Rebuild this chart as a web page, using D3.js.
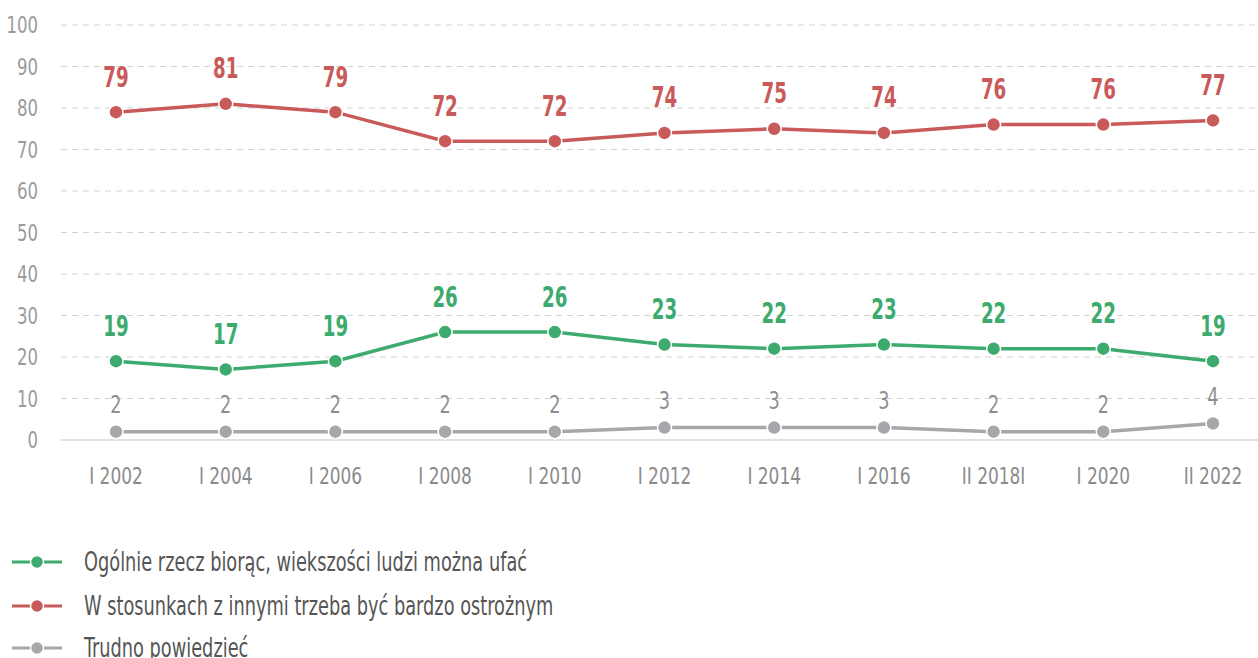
<!DOCTYPE html>
<html><head><meta charset="utf-8">
<script src="https://cdn.jsdelivr.net/npm/d3@7"></script>
<style>
body{margin:0;background:#fff;}
text{font-family:"DejaVu Sans Condensed","DejaVu Sans",sans-serif;}
</style></head>
<body><svg id="c" width="1258" height="658"></svg>
<script>
const categories=["I 2002","I 2004","I 2006","I 2008","I 2010","I 2012","I 2014","I 2016","II 2018I","I 2020","II 2022"];
const trust=[19,17,19,26,26,23,22,23,22,22,19];
const careful=[79,81,79,72,72,74,75,74,76,76,77];
const hard=[2,2,2,2,2,3,3,3,2,2,4];
const yTicks=[0,10,20,30,40,50,60,70,80,90,100];
const seriesNames=["Ogólnie rzecz biorąc, wiekszości ludzi można ufać","W stosunkach z innymi trzeba być bardzo ostrożnym","Trudno powiedzieć"];
const colors=["#3daa6e","#c85a5a","#a7a7ab"];

const svg=d3.select("#c");
const x=d3.scalePoint().domain(categories).range([116,1213]);
const y=d3.scaleLinear().domain([0,100]).range([440,25]);

function narrow(sel,s,fx,fy){
  sel.attr("x",null).attr("y",null)
     .attr("transform",(d,i)=>`translate(${fx(d,i)},${fy(d,i)}) scale(${s},1)`);
}

// grid
svg.append("g").selectAll("line").data(yTicks).join("line")
 .attr("x1",61).attr("x2",1258).attr("y1",d=>y(d)).attr("y2",d=>y(d))
 .attr("stroke",d=>d===0?"#d6d6d6":"#d3d3d3").attr("stroke-width",d=>d===0?1.5:1)
 .attr("stroke-dasharray",d=>d===0?null:"6,5");

// y axis labels
svg.append("g").selectAll("text").data(yTicks).join("text")
 .attr("text-anchor","end").attr("dy","0.36em").attr("font-size",23).attr("fill","#9a9a9e")
 .text(d=>d).call(narrow,0.8,()=>38,d=>y(d));

// x axis labels
svg.append("g").selectAll("text").data(categories).join("text")
 .attr("text-anchor","middle").attr("dy","0.36em").attr("font-size",23).attr("fill","#8a8a8e")
 .text(d=>d).call(narrow,0.82,d=>x(d),()=>476);

const data=[trust,careful,hard];
const line=d3.line().x((d,i)=>x(categories[i])).y(d=>y(d));
data.forEach((vals,k)=>{
  const g=svg.append("g");
  g.append("path").datum(vals).attr("d",line).attr("fill","none").attr("stroke",colors[k]).attr("stroke-width",3.5);
  g.selectAll("circle").data(vals).join("circle")
   .attr("cx",(d,i)=>x(categories[i])).attr("cy",d=>y(d)).attr("r",7)
   .attr("fill",colors[k]).attr("stroke","#fff").attr("stroke-width",1.5);
  const off=k===2?27:36;
  g.selectAll("text").data(vals).join("text")
   .attr("dy","0.36em")
   .attr("text-anchor","middle").attr("font-size",k===2?24:29)
   .attr("font-weight",k===2?"normal":"bold")
   .attr("fill",k===2?"#8f8f93":colors[k]).text(d=>d)
   .call(narrow,k===2?0.82:0.7,(d,i)=>x(categories[i]),d=>y(d)-off);
});

// legend
const ly=[562,606,648];
seriesNames.forEach((n,k)=>{
  const g=svg.append("g").attr("transform",`translate(0,${ly[k]})`);
  g.append("line").attr("x1",12).attr("x2",62).attr("stroke",colors[k]).attr("stroke-width",3);
  g.append("circle").attr("cx",37).attr("r",6.5).attr("fill",colors[k]).attr("stroke","#fff").attr("stroke-width",1.5);
  g.append("text").datum(n).attr("dy","0.36em").attr("font-size",26).attr("fill","#555").text(n)
   .call(narrow,0.76,()=>84,()=>0);
});
</script></body></html>
